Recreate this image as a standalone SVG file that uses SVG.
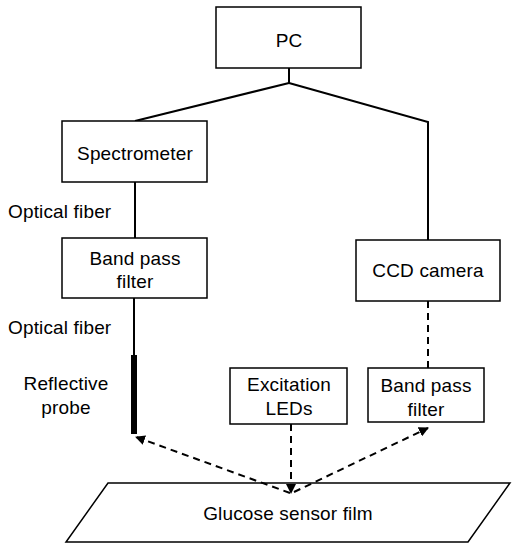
<svg xmlns="http://www.w3.org/2000/svg" width="515" height="550" viewBox="0 0 515 550">
<defs>
<style>
.box{fill:#fff;stroke:#000;stroke-width:1.5}
.t{font-family:"Liberation Sans",Arial,sans-serif;font-size:19px;letter-spacing:0.15px;fill:#000;text-anchor:middle;dominant-baseline:central}
.tl{font-family:"Liberation Sans",Arial,sans-serif;font-size:19px;letter-spacing:0.15px;fill:#000;dominant-baseline:central}
.solid{fill:none;stroke:#000;stroke-width:2}
.dash{fill:none;stroke:#000;stroke-width:2;stroke-dasharray:7,5}
</style>
<marker id="ah" viewBox="0 0 10 10" refX="9" refY="5" markerWidth="5" markerHeight="5" orient="auto" markerUnits="strokeWidth">
<path d="M0,0 L10,5 L0,10 Z" fill="#000"/>
</marker>
</defs>
<rect width="515" height="550" fill="#fff"/>
<g id="film"><polygon class="box" points="108,483 510,483 468,542 66,542"/><text class="t" x="288" y="513">Glucose sensor film</text></g>
<g id="connectors">
<polyline class="solid" points="289,68 289,83"/>
<polyline class="solid" points="289,83 135,121"/>
<polyline class="solid" points="289,83 428,122 428,240"/>
<line class="solid" x1="135" y1="182" x2="135" y2="238"/>
<line class="solid" x1="134" y1="298" x2="134" y2="356"/>
<line class="dash" x1="428" y1="301" x2="428" y2="368"/>
<line class="dash" x1="291" y1="424" x2="291" y2="493" marker-end="url(#ah)"/>
<line class="dash" x1="290" y1="493" x2="136" y2="437" marker-end="url(#ah)"/>
<line class="dash" x1="294" y1="492" x2="428" y2="428" marker-end="url(#ah)"/>
</g>
<g id="pc"><rect class="box" x="216" y="7" width="145" height="61"/><text class="t" x="289" y="40">PC</text></g>
<g id="spectrometer"><rect class="box" x="62" y="121" width="145" height="61"/><text class="t" x="135" y="153">Spectrometer</text></g>
<g id="label-fiber1"><text class="tl" x="8" y="211">Optical fiber</text></g>
<g id="bpf-left"><rect class="box" x="62" y="238" width="145" height="60"/><text class="t" x="135" y="258">Band pass</text><text class="t" x="135" y="281">filter</text></g>
<g id="label-fiber2"><text class="tl" x="8" y="327">Optical fiber</text></g>
<g id="probe"><rect x="131" y="355" width="6" height="79" fill="#000"/><text class="t" x="66" y="383">Reflective</text><text class="t" x="66" y="407">probe</text></g>
<g id="ccd"><rect class="box" x="356" y="240" width="144" height="61"/><text class="t" x="428" y="270">CCD camera</text></g>
<g id="leds"><rect class="box" x="230" y="368" width="117" height="56"/><text class="t" x="289" y="384">Excitation</text><text class="t" x="289" y="408">LEDs</text></g>
<g id="bpf-right"><rect class="box" x="368" y="368" width="116" height="54"/><text class="t" x="426" y="385">Band pass</text><text class="t" x="426" y="409">filter</text></g>
</svg>
